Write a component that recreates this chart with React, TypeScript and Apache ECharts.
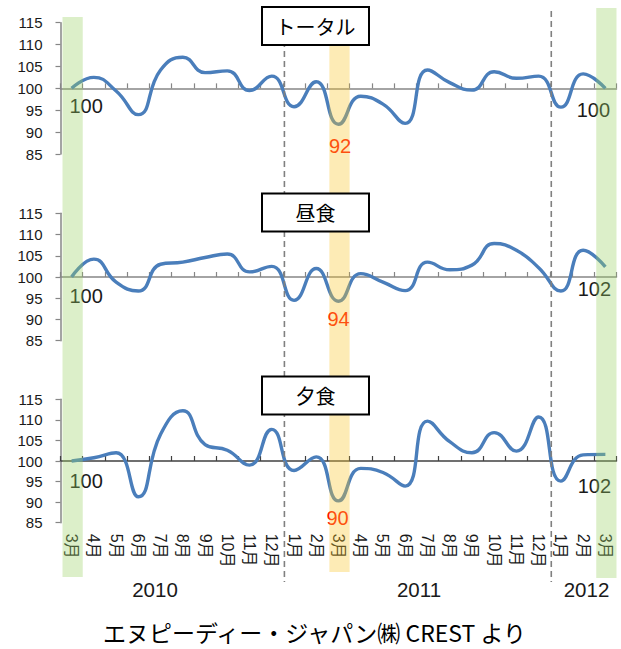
import React, { useEffect, useRef } from 'react';
import * as echarts from 'echarts';

const months = ['3月', '4月', '5月', '6月', '7月', '8月', '9月', '10月', '11月', '12月', '1月', '2月', '3月', '4月', '5月', '6月', '7月', '8月', '9月', '10月', '11月', '12月', '1月', '2月', '3月'];
const totalValues = [100, 102.5, 99.4, 94, 104.2, 107.1, 103.6, 104, 99.5, 102.8, 95.8, 101.5, 91.8, 98.2, 96.4, 92, 104.2, 101.3, 99.6, 103.8, 102.3, 102.8, 95.7, 103.3, 100];
const lunchValues = [100, 104.2, 98.8, 96.7, 103, 103.5, 104.6, 105.4, 101.2, 102.5, 94.5, 102, 94.3, 100.8, 98.8, 96.8, 103.5, 101.7, 102.8, 107.9, 106.3, 102.2, 96.7, 106.3, 102.4];
const dinnerValues = [100, 100.8, 102, 91.3, 106.5, 112.2, 104, 102.6, 99, 107.7, 97.7, 101, 90.3, 98.2, 97.2, 93.9, 109.7, 104.7, 102, 106.9, 102.4, 110.7, 95.1, 101.5, 101.6];
const panelTitles = ['トータル', '昼食', '夕食'];
const yMin = 85;
const yMax = 115;
const yInterval = 5;
const years = ['2010', '2011', '2012'];
const sourceText = 'エヌピーディー・ジャパン㈱ CREST より';
const labelledIndices = [0, 12, 24];
const highlightGreen = [0, 24];
const highlightYellow = [12];
const yearBreaks = [9, 21];

const FONT = '"Liberation Sans", Arial, "Noto Sans CJK JP", sans-serif';
const JFONT = '"Noto Sans CJK JP", sans-serif';

const panels = [
  { values: totalValues, top: 22.7, height: 131.3, axisColor: '#868686', box: 7,
    offsets: [[14.5, 18], [1.5, 22], [-12, 22]] },
  { values: lunchValues, top: 213.3, height: 127.4, axisColor: '#868686', box: 193.5,
    offsets: [[14.5, 18.5], [0, 18], [-11, 22]] },
  { values: dinnerValues, top: 399.3, height: 123.4, axisColor: '#404040', box: 376.5,
    offsets: [[14.5, 20], [-1, 17], [-11, 32]] },
];

export default function App() {
  const ref = useRef<HTMLDivElement>(null);
  useEffect(() => {
    document.body.style.margin = '0';
    const chart = echarts.init(ref.current!, null, { renderer: 'svg' });
    const grids: any[] = [];
    const xAxes: any[] = [];
    const yAxes: any[] = [];
    const series: any[] = [];
    panels.forEach((p, gi) => {
      grids.push({ left: 60.5, width: 556, top: p.top, height: p.height });
      xAxes.push({
        type: 'category', gridIndex: gi, data: months, position: 'bottom',
        offset: -p.height / 2, boundaryGap: true,
        axisLine: { show: true, lineStyle: { color: p.axisColor, width: 1.5 } },
        axisTick: { show: true, inside: true, length: 5, interval: 0, lineStyle: { color: p.axisColor, width: 1.2 } },
        axisLabel: { show: false },
        splitLine: { show: false },
      });
      yAxes.push({
        type: 'value', gridIndex: gi, min: yMin, max: yMax, interval: yInterval,
        axisLine: { show: true, lineStyle: { color: '#868686', width: 1.5 } },
        axisTick: { show: true, length: 5, lineStyle: { color: '#868686', width: 1.2 } },
        axisLabel: { color: '#1a1a1a', fontSize: 15, fontFamily: FONT, margin: 18 },
        splitLine: { show: false },
      });
      series.push({
        type: 'line', xAxisIndex: gi, yAxisIndex: gi, smooth: 0.5,
        symbol: 'circle', symbolSize: 0, showSymbol: true,
        lineStyle: { color: '#4a7ebb', width: 3.4 },
        itemStyle: { color: '#4a7ebb' },
        label: { show: false },
        data: p.values.map((v, i) => {
          const li = labelledIndices.indexOf(i);
          if (li < 0) return v;
          return {
            value: v,
            label: {
              show: true, position: 'inside', offset: p.offsets[li],
              formatter: (d: any) => String(Math.round(d.value)),
              color: li === 1 ? '#ff1000' : '#1a1a1a', fontSize: 20, fontFamily: FONT,
            },
          };
        }),
      });
    });
    xAxes.push({
      type: 'category', gridIndex: 2, data: months, position: 'bottom', boundaryGap: true,
      axisLine: { show: false }, axisTick: { show: false },
      axisLabel: { interval: 0, rotate: -90, margin: 11, color: '#1a1a1a', fontSize: 16, fontFamily: FONT },
    });
    chart.setOption({
      animation: false,
      grid: grids, xAxis: xAxes, yAxis: yAxes, series,
    });

    const cx = (i: number) => chart.convertToPixel({ xAxisIndex: 0 }, i) as number;
    const cw = cx(1) - cx(0);
    const graphic: any[] = [];
    highlightGreen.forEach((i, k) => {
      graphic.push({
        type: 'rect', z: 50, silent: true,
        shape: { x: cx(i) - cw / 2 + 2, y: k === 0 ? 17 : 8, width: cw - 2, height: k === 0 ? 560 : 570 },
        style: { fill: 'rgba(155,209,101,0.35)' },
      });
    });
    highlightYellow.forEach((i) => {
      graphic.push({
        type: 'rect', z: 50, silent: true,
        shape: { x: cx(i) - cw / 2 + 2, y: 42, width: cw - 2, height: 530 },
        style: { fill: 'rgba(249,198,44,0.35)' },
      });
    });
    yearBreaks.forEach((i) => {
      const x = (cx(i) + cx(i + 1)) / 2 + 1.5;
      graphic.push({
        type: 'line', z: 55, silent: true,
        shape: { x1: x, y1: 11, x2: x, y2: 582 },
        style: { stroke: '#808080', lineWidth: 1.6, lineDash: [6, 4] },
      });
    });
    panels.forEach((p, gi) => {
      graphic.push({
        type: 'rect', z: 60, silent: true,
        shape: { x: 262, y: p.box, width: 107, height: 38 },
        style: { fill: '#ffffff', stroke: '#000000', lineWidth: 2 },
      });
      graphic.push({
        type: 'text', z: 61, silent: true, x: 315.5, y: p.box + 19,
        style: { text: panelTitles[gi], fill: '#000000', font: `20px ${JFONT}`, align: 'center', verticalAlign: 'middle' },
      });
    });
    const yearX = [155, 419, 586.5];
    years.forEach((y, k) => {
      graphic.push({
        type: 'text', z: 61, silent: true, x: yearX[k], y: 589,
        style: { text: y, fill: '#1a1a1a', font: `20.5px ${FONT}`, align: 'center', verticalAlign: 'middle' },
      });
    });
    graphic.push({
      type: 'text', z: 61, silent: true, x: 314.5, y: 632,
      style: { text: sourceText, fill: '#000000', font: `23px ${JFONT}`, align: 'center', verticalAlign: 'middle' },
    });
    chart.setOption({ graphic });
    return () => chart.dispose();
  }, []);
  return <div ref={ref} style={{ width: 621, height: 649 }} />;
}
